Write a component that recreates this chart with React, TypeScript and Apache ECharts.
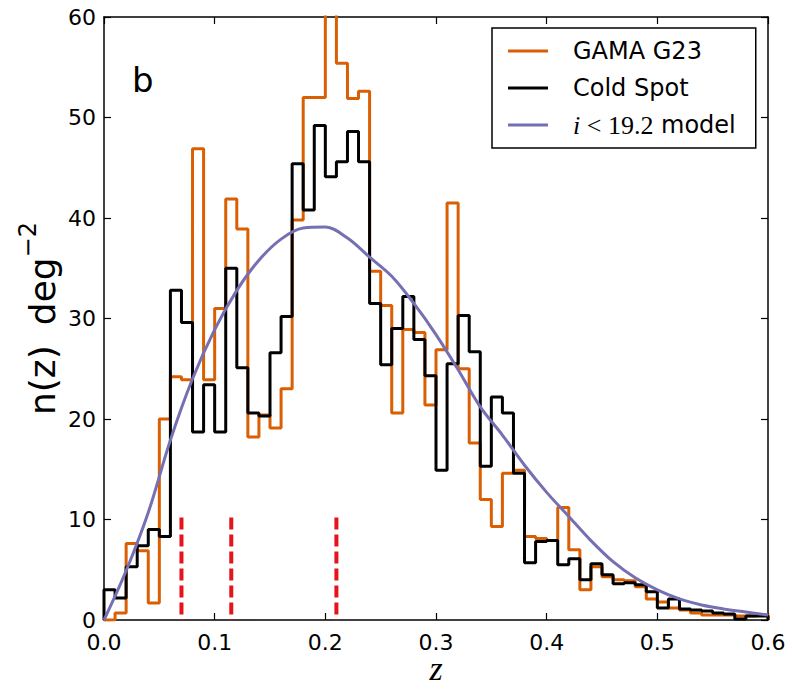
import React, { useEffect, useRef } from "react";
import * as echarts from "echarts";

// ---- data ----
const binWidth = 0.01;
const binStart = 0.0;
// GAMA G23 histogram (n(z) per deg^2), 60 bins of width 0.01
const gamaValues = [
  0, 0.7, 7.6, 6.9, 1.7, 20.0, 24.2, 23.9, 46.9, 23.9,
  31.0, 41.9, 38.9, 18.2, 20.4, 19.1, 23.0, 39.8, 52.0, 52.0,
  62.0, 55.4, 51.9, 52.6, 34.7, 31.3, 20.6, 28.9, 28.6, 21.4,
  26.9, 41.5, 25.0, 17.6, 12.0, 9.3, 14.6, 14.9, 8.3, 8.1,
  7.9, 11.2, 7.0, 3.0, 5.3, 4.3, 4.0, 3.9, 3.3, 2.1,
  1.8, 1.2, 1.0, 0.7, 0.5, 0.5, 0.5, 0.4, 0.4, 0.5,
];
// Cold Spot histogram
const coldValues = [
  3.0, 2.2, 5.3, 7.4, 9.0, 8.3, 32.8, 29.6, 18.7, 23.4,
  18.7, 35.0, 25.1, 20.6, 20.3, 26.6, 30.2, 45.4, 40.8, 49.2,
  44.1, 45.6, 48.6, 45.6, 31.5, 25.4, 29.0, 32.2, 27.9, 24.3,
  14.9, 25.5, 30.3, 26.7, 15.3, 22.2, 20.6, 14.6, 5.7, 7.8,
  7.9, 5.5, 6.1, 4.0, 5.6, 4.5, 3.6, 3.7, 3.5, 2.8,
  1.2, 2.1, 1.1, 1.0, 0.9, 0.7, 0.6, 0.1, 0.4, 0.4,
];
// i < 19.2 model curve
const modelZ = [
  0.0, 0.02, 0.04, 0.06, 0.08, 0.1, 0.12, 0.14, 0.16, 0.18,
  0.2, 0.22, 0.24, 0.26, 0.28, 0.3, 0.32, 0.34, 0.36, 0.38,
  0.4, 0.42, 0.44, 0.46, 0.48, 0.5, 0.52, 0.54, 0.56, 0.58, 0.6,
];
const modelN = [
  0, 4.9, 10.7, 17.9, 24.0, 28.9, 32.8, 35.8, 37.9, 39.0,
  39.1, 38.0, 36.1, 34.2, 31.5, 28.4, 24.9, 21.2, 18.4, 15.4,
  12.7, 10.3, 7.9, 5.8, 4.2, 3.0, 2.1, 1.5, 1.1, 0.8, 0.5,
];
// red dashed markers
const markerZ = [0.07, 0.115, 0.21];
const markerTop = 10.2;

const xTicks = { min: 0, max: 0.6, interval: 0.1 };
const yTicks = { min: 0, max: 60, interval: 10 };

const seriesNames = ["GAMA G23", "Cold Spot", "i<19.2 model"];
const colors = ["#d95f02", "#000000", "#7570b3"];

const FONT = "DejaVu Sans";

function stepOutline(values: number[]): [number, number][] {
  const pts: [number, number][] = [];
  values.forEach((v, k) => {
    const x0 = +(binStart + k * binWidth).toFixed(4);
    const x1 = +(binStart + (k + 1) * binWidth).toFixed(4);
    if (k === 0) pts.push([x0, 0]);
    pts.push([x0, v]);
    pts.push([x1, v]);
  });
  pts.push([+(binStart + values.length * binWidth).toFixed(4), 0]);
  return pts;
}

export default function App() {
  const ref = useRef<HTMLDivElement>(null);
  useEffect(() => {
    if (!ref.current) return;
    const chart = echarts.init(ref.current, undefined, { renderer: "svg" });
    const axisLine = { show: true, onZero: false, lineStyle: { color: "#000", width: 1.5 } };
    const axisTick = { show: true, inside: true, length: 7, lineStyle: { color: "#000", width: 1.2 } };
    const markerSeries = markerZ.map((z) => ({
      type: "line",
      name: "marker" + z,
      data: [[z, markerTop], [z, 0]],
      symbol: "none",
      lineStyle: { color: "#e5141c", width: 4, type: [12, 5] },
      z: 4,
    }));
    const option: any = {
      animation: false,
      backgroundColor: "#fff",
      grid: { left: 104, top: 17, width: 664, height: 603, containLabel: false, outerBoundsMode: "none" },
      xAxis: [
        {
          type: "value", ...xTicks, position: "bottom",
          axisLine, axisTick,
          splitLine: { show: false },
          axisLabel: { formatter: (v: number) => v.toFixed(1), fontSize: 22, color: "#000", fontFamily: FONT, margin: 11 },
          name: "z", nameLocation: "middle", nameGap: 33, nameMoveOverlap: false,
          nameTextStyle: { fontFamily: "Liberation Serif", fontStyle: "italic", fontSize: 34, color: "#000", lineHeight: 30 },
        },
        {
          type: "value", ...xTicks, position: "top",
          axisLine, axisTick, splitLine: { show: false }, axisLabel: { show: false },
        },
      ],
      yAxis: [
        {
          type: "value", ...yTicks, position: "left",
          axisLine, axisTick,
          splitLine: { show: false },
          axisLabel: { fontSize: 22, color: "#000", fontFamily: FONT, margin: 8 },
          name: "{a|n(z)}{g|}{a|deg}{b|−2}", nameLocation: "middle", nameGap: 44, nameRotate: 90,
          nameMoveOverlap: false,
          nameTextStyle: {
            color: "#000",
            rich: {
              a: { fontSize: 36, fontFamily: FONT, color: "#000", verticalAlign: "bottom", lineHeight: 44 },
              g: { width: 20 },
              b: { fontSize: 24, fontFamily: FONT, color: "#000", verticalAlign: "top", lineHeight: 28 },
            },
          },
        },
        {
          type: "value", ...yTicks, position: "right",
          axisLine, axisTick, splitLine: { show: false }, axisLabel: { show: false },
        },
      ],
      legend: {
        data: seriesNames,
        orient: "vertical",
        left: 492,
        top: 28,
        backgroundColor: "#fff",
        borderColor: "#000",
        borderWidth: 1.5,
        borderRadius: 0,
        padding: [9, 20, 9, 16],
        itemWidth: 40,
        itemHeight: 3,
        itemGap: 9,
        icon: "rect",
        formatter: (name: string) => (name === "i<19.2 model" ? "{m|i}{r| < 19.2} model" : name),
        textStyle: {
          fontFamily: FONT, fontSize: 24, color: "#000", lineHeight: 28, padding: [0, 0, 0, 20],
          rich: {
            m: { fontFamily: "Liberation Serif", fontStyle: "italic", fontSize: 26, color: "#000" },
            r: { fontFamily: "Liberation Serif", fontSize: 26, color: "#000" },
          },
        },
      },
      graphic: [
        { type: "text", left: 132, top: 63, style: { text: "b", fontSize: 34, fontFamily: FONT, fill: "#000" } },
      ],
      series: [
        {
          type: "line", name: seriesNames[0], data: stepOutline(gamaValues),
          symbol: "none", color: colors[0], itemStyle: { color: colors[0] },
          lineStyle: { color: colors[0], width: 3 }, clip: true, z: 2,
        },
        {
          type: "line", name: seriesNames[1], data: stepOutline(coldValues),
          symbol: "none", color: colors[1], itemStyle: { color: colors[1] },
          lineStyle: { color: colors[1], width: 3 }, clip: true, z: 3,
        },
        {
          type: "line", name: seriesNames[2], data: modelZ.map((z, i) => [z, modelN[i]]),
          symbol: "none", smooth: 0.35, color: colors[2], itemStyle: { color: colors[2] },
          lineStyle: { color: colors[2], width: 3 }, z: 5,
        },
        ...markerSeries,
      ],
    };
    chart.setOption(option);
    return () => chart.dispose();
  }, []);
  return <div ref={ref} style={{ position: "fixed", left: 0, top: 0, width: 792, height: 689 }} />;
}
